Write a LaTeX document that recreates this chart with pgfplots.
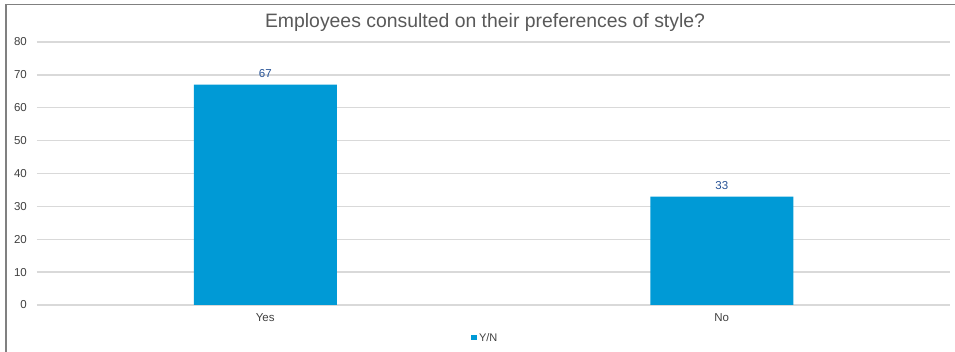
\documentclass[border=0pt]{standalone}
\usepackage{fontspec}
\setmainfont{Liberation Sans}
\usepackage{pgfplots}
\pgfplotsset{compat=1.18}
\definecolor{barblue}{RGB}{0,154,214}
\definecolor{txtgray}{RGB}{89,89,89}
\definecolor{tickgray}{RGB}{64,64,64}
\definecolor{lblblue}{RGB}{38,82,150}
\definecolor{gridgray}{RGB}{217,217,217}
\definecolor{bordergray}{RGB}{128,128,128}
\begin{document}
\begin{tikzpicture}
\path[use as bounding box] (-37pt,-47pt) rectangle (918pt,305pt);
\fill[white] (-37pt,-47pt) rectangle (918pt,305pt);
\begin{axis}[
  at={(0pt,0pt)}, anchor=south west,
  scale only axis,
  width=913pt, height=263pt,
  xmin=-0.5, xmax=1.5,
  ymin=0, ymax=80,
  ytick={0,10,...,80},
  xtick=data,
  xticklabels={Yes,No},
  major tick length=0pt,
  axis line style={draw=none},
  ymajorgrids,
  grid style={draw=gridgray, line width=1.3pt},
  /pgf/number format/assume math mode=true,
  tick label style={font=\fontsize{11.5}{13}\selectfont, text=tickgray},
  yticklabel style={inner sep=0pt, xshift=-10pt},
  xticklabel style={inner sep=0pt, yshift=-8pt, text=tickgray},
  ybar,
  bar width=143pt,
  nodes near coords,
  every node near coord/.append style={font=\fontsize{11.5}{13}\selectfont, text=lblblue, anchor=center, yshift=11pt},
  title={Employees consulted on their preferences of style?},
  title style={at={(axis description cs:0.4907,1)}, anchor=center, yshift=14pt, font=\fontsize{19.4}{22}\selectfont, text=txtgray},
  legend style={at={(axis description cs:0.4907,-0.125)}, anchor=center, draw=none, fill=none, font=\fontsize{11}{13}\selectfont, text=tickgray, inner sep=0pt},
  legend image code/.code={\fill[barblue] (0pt,-2.5pt) rectangle (6.5pt,2.5pt);},
]
\addplot[fill=barblue, draw=none] coordinates {(0,67) (1,33)};
\addlegendentry{Y/N}
\end{axis}
\draw[bordergray, line width=1.5pt] (-31pt,-47pt) -- (-31pt,300.5pt) -- (918pt,300.5pt);
\end{tikzpicture}
\end{document}
